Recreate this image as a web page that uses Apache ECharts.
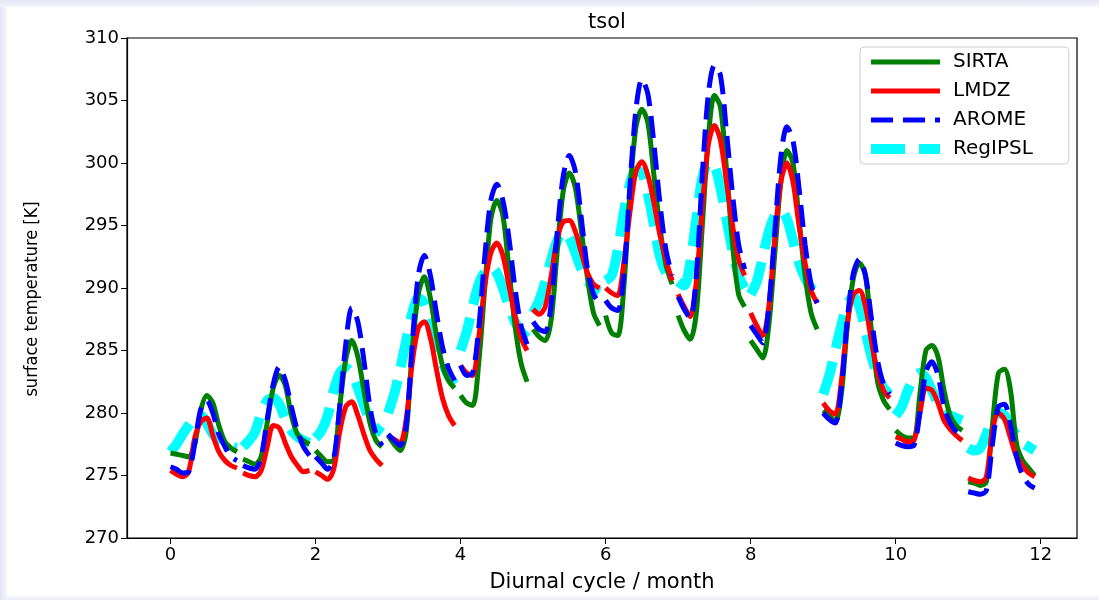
<!DOCTYPE html>
<html>
<head>
<meta charset="utf-8">
<script src="https://cdn.jsdelivr.net/npm/echarts@6/dist/echarts.min.js"></script>
<style>
  html, body { margin: 0; padding: 0; }
  body {
    width: 1099px; height: 600px; overflow: hidden;
    background:
      linear-gradient(to bottom, #e4e4f4 0px, #f1f1fa 5px, rgba(255,255,255,0) 8px),
      linear-gradient(to right, #e4e4f4 0px, #f1f1fa 5px, rgba(255,255,255,0) 8px),
      linear-gradient(to top, #ececf8 0px, rgba(255,255,255,0) 6px),
      #ffffff;
  }
  #chart { position: absolute; left: 0; top: 0; width: 1099px; height: 600px; }
</style>
</head>
<body>
<div id="chart"></div>
<script>
// hours of the day sampled in each monthly diurnal cycle
const hours = [0, 2, 4, 6, 8, 10, 12, 14, 16, 18, 20, 22];
const months = [0, 1, 2, 3, 4, 5, 6, 7, 8, 9, 10, 11];
const xTicks = [0, 2, 4, 6, 8, 10, 12];
const yTicks = [270, 275, 280, 285, 290, 295, 300, 305, 310];

const sirta = [
  [276.8, 276.7, 276.6, 276.5, 277.5, 280.2, 281.4, 280.8, 279.0, 277.7, 277.2, 276.9],
  [276.3, 276.1, 275.9, 276.5, 279.2, 282.0, 283.0, 282.2, 279.8, 278.3, 277.8, 277.5],
  [277.0, 276.5, 276.1, 276.2, 280.5, 284.3, 285.8, 284.5, 281.8, 279.2, 277.8, 277.3],
  [278.2, 277.5, 277.0, 278.5, 285.0, 289.5, 290.9, 289.2, 286.2, 283.8, 282.6, 282.0],
  [281.4, 280.8, 280.6, 284.0, 290.0, 295.5, 297.0, 295.8, 291.5, 287.0, 284.0, 282.5],
  [286.7, 286.1, 285.8, 287.5, 293.0, 297.8, 299.2, 298.0, 294.5, 290.8, 288.0, 287.0],
  [287.8, 286.4, 286.2, 290.0, 297.5, 302.8, 304.3, 303.2, 299.0, 294.8, 291.8, 290.3],
  [287.8, 286.6, 285.9, 288.0, 295.0, 302.0, 305.4, 304.5, 299.5, 293.5, 289.5, 288.5],
  [285.8, 285.1, 284.4, 287.0, 292.8, 298.5, 301.0, 300.0, 295.5, 291.0, 288.0, 286.7],
  [280.2, 279.8, 279.3, 281.5, 287.0, 290.8, 292.0, 291.0, 286.5, 282.5, 281.0, 280.3],
  [278.6, 278.2, 278.0, 278.0, 281.5, 285.0, 285.4, 284.5, 281.8, 279.8, 279.0, 278.6],
  [274.5, 274.4, 274.2, 274.5, 279.0, 283.2, 283.5, 281.8, 277.5, 276.2, 275.6, 275.0]
];

const lmdz = [
  [275.4, 275.1, 274.9, 275.3, 278.0, 279.3, 279.6, 278.2, 276.9, 276.2, 275.8, 275.6],
  [275.2, 275.0, 274.9, 275.4, 277.3, 279.0, 278.8, 277.6, 276.5, 275.8, 275.3, 275.4],
  [275.3, 275.0, 274.7, 275.5, 278.5, 280.5, 280.9, 279.8, 278.3, 277.0, 276.3, 275.8],
  [278.2, 277.9, 277.6, 279.5, 284.0, 286.8, 287.3, 286.0, 283.5, 281.2, 279.8, 279.0],
  [283.8, 283.2, 283.0, 286.0, 290.2, 292.8, 293.6, 292.6, 290.2, 287.8, 286.0, 285.0],
  [288.3, 287.9, 288.5, 291.0, 294.0, 295.3, 295.4, 294.5, 292.8, 291.2, 290.3, 290.0],
  [290.0, 289.6, 289.4, 292.0, 296.0, 299.3, 300.1, 299.0, 296.8, 294.2, 292.2, 290.6],
  [289.5, 288.5, 287.7, 290.5, 296.5, 301.5, 303.0, 301.8, 298.5, 295.0, 292.3, 291.0],
  [288.0, 287.0, 286.2, 288.5, 294.0, 298.5, 300.0, 298.5, 295.0, 292.0, 289.8, 288.8],
  [280.8, 280.2, 279.9, 282.5, 287.2, 289.5, 289.8, 288.5, 285.7, 283.2, 281.8, 281.2],
  [278.1, 277.9, 277.7, 277.8, 280.0, 282.0, 281.8, 280.8, 279.4, 278.7, 278.2, 277.8],
  [274.8, 274.6, 274.5, 274.9, 278.5, 280.0, 279.5, 278.0, 276.5, 275.8, 275.2, 274.9]
];

const arome = [
  [275.7, 275.5, 275.2, 275.3, 277.5, 280.3, 281.0, 280.0, 278.3, 277.3, 276.5, 276.2],
  [275.8, 275.6, 275.5, 276.5, 279.5, 282.3, 283.7, 282.6, 280.5, 278.6, 277.3, 276.6],
  [276.5, 276.0, 275.5, 276.3, 280.5, 285.5, 288.4, 287.3, 284.2, 280.5, 278.3, 277.4],
  [278.3, 277.8, 277.4, 279.0, 285.5, 291.0, 292.6, 291.0, 288.0, 285.3, 283.6, 282.6],
  [283.8, 283.0, 283.2, 286.8, 292.5, 297.0, 298.3, 297.0, 294.0, 290.0, 287.0, 285.5],
  [287.3, 286.7, 286.5, 288.8, 294.5, 299.0, 300.6, 299.3, 295.5, 291.5, 289.5, 288.8],
  [289.0, 288.4, 288.2, 291.0, 298.0, 304.2, 306.7, 305.5, 301.5, 296.7, 293.0, 291.0],
  [289.3, 288.3, 287.6, 291.0, 299.0, 305.5, 307.8, 307.0, 302.5, 297.5, 293.5, 291.5],
  [287.0, 286.3, 285.6, 288.5, 294.5, 300.5, 302.9, 301.8, 298.0, 293.5, 290.3, 288.8],
  [280.0, 279.5, 279.2, 282.0, 287.5, 291.2, 292.3, 291.0, 287.5, 284.2, 282.3, 281.5],
  [277.6, 277.4, 277.3, 277.4, 280.0, 283.3, 284.1, 283.0, 280.5, 279.2, 278.5, 278.1],
  [273.7, 273.6, 273.5, 273.8, 277.5, 280.5, 280.7, 279.0, 276.5, 275.0, 274.3, 274.0]
];

const regipsl = [
  [276.9, 277.5, 278.3, 279.0, 279.6, 279.8, 279.2, 278.3, 277.8, 277.5, 277.3, 277.2],
  [277.3, 277.8, 278.5, 280.0, 281.0, 281.2, 280.7, 279.5, 278.6, 278.1, 277.8, 277.6],
  [278.0, 278.6, 279.8, 281.8, 283.2, 283.6, 283.2, 282.0, 280.6, 279.4, 278.8, 278.4],
  [280.0, 281.5, 283.5, 285.8, 288.0, 289.2, 288.8, 287.3, 285.5, 284.0, 283.0, 282.3],
  [285.0, 286.5, 288.5, 290.3, 291.3, 291.7, 291.2, 290.0, 288.5, 287.3, 286.5, 286.0],
  [288.0, 289.0, 290.5, 292.3, 293.8, 294.5, 294.0, 292.8, 291.5, 290.6, 290.0, 289.7],
  [290.6, 291.0, 293.0, 296.0, 298.3, 299.4, 299.2, 297.5, 295.0, 292.5, 291.2, 290.7],
  [290.5, 290.2, 292.0, 295.5, 298.8, 300.0, 299.8, 298.0, 295.5, 293.0, 291.0, 290.0],
  [289.5, 290.5, 292.5, 294.5, 295.8, 296.2, 295.5, 293.8, 292.0, 290.8, 290.0, 289.5],
  [281.5, 283.0, 285.0, 287.0, 288.7, 289.3, 288.5, 286.5, 284.5, 283.0, 282.0, 281.5],
  [279.8, 280.5, 281.8, 282.8, 283.2, 282.8, 281.8, 280.8, 280.2, 279.8, 279.6, 279.4],
  [277.2, 277.0, 277.2, 278.3, 279.5, 280.0, 279.8, 279.0, 278.2, 277.6, 277.3, 277.0]
];

// build [x, y] pairs; month + hour/24 on the x axis, with a break between months
function build(series) {
  const out = [];
  months.forEach(function (m) {
    hours.forEach(function (h, k) {
      out.push([m + h / 24, series[m][k]]);
    });
    out.push([m + 0.96, '-']);
  });
  return out;
}

const FONT = 'DejaVu Sans';
const chart = echarts.init(document.getElementById('chart'), null, { renderer: 'canvas' });

function lineSeries(name, data, color, width, dash, z) {
  return {
    name: name,
    type: 'line',
    data: build(data),
    showSymbol: false,
    symbol: 'none',
    smooth: 0.3,
    connectNulls: false,
    z: z,
    lineStyle: { color: color, width: width, type: dash, cap: 'butt' },
    itemStyle: { color: color },
    emphasis: { disabled: true }
  };
}

chart.setOption({
  animation: false,
  backgroundColor: 'transparent',
  title: {
    text: 'tsol',
    left: 583,
    top: 7,
    textStyle: { fontFamily: FONT, fontSize: 21, fontWeight: 'normal', color: '#000' }
  },
  legend: {
    orient: 'vertical',
    left: 860,
    top: 47,
    data: ['SIRTA', 'LMDZ', 'AROME', 'RegIPSL'],
    itemWidth: 69,
    itemHeight: 14,
    itemGap: 9,
    padding: [5, 36, 5, 6],
    itemStyle: { opacity: 0 },
    lineStyle: { width: 'inherit' },
    backgroundColor: 'rgba(255,255,255,0.85)',
    borderColor: '#cccccc',
    borderWidth: 1,
    borderRadius: 4,
    textStyle: { fontFamily: FONT, fontSize: 20, color: '#000', padding: [0, 0, 0, 8] }
  },
  grid: { left: 127, top: 38, width: 950, height: 500, show: true, borderColor: '#000', borderWidth: 1.2, backgroundColor: 'transparent' },
  xAxis: {
    type: 'value',
    min: -0.6,
    max: 12.5,
    name: 'Diurnal cycle / month',
    nameLocation: 'middle',
    nameGap: 34,
    nameTextStyle: { fontFamily: FONT, fontSize: 21, color: '#000' },
    axisLine: { show: true, onZero: false, lineStyle: { color: '#000', width: 1.2 } },
    axisTick: { show: true, length: 6, lineStyle: { color: '#000' }, customValues: xTicks },
    axisLabel: { fontFamily: FONT, fontSize: 18, color: '#000', margin: 8, customValues: xTicks },
    splitLine: { show: false }
  },
  yAxis: {
    type: 'value',
    min: 270,
    max: 310,
    interval: 5,
    name: 'surface temperature [K]',
    nameLocation: 'middle',
    nameGap: 86,
    nameRotate: 90,
    nameTextStyle: { fontFamily: 'DejaVu Sans Condensed, ' + FONT, fontSize: 18, color: '#000', padding: [0, 22, 0, 0] },
    axisLine: { show: true, onZero: false, lineStyle: { color: '#000', width: 1.2 } },
    axisTick: { show: true, length: 6, lineStyle: { color: '#000' }, customValues: yTicks },
    axisLabel: { fontFamily: FONT, fontSize: 18, color: '#000', margin: 8, customValues: yTicks },
    splitLine: { show: false }
  },
  series: [
    lineSeries('SIRTA', sirta, '#008000', 5, 'solid', 2),
    lineSeries('LMDZ', lmdz, '#ff0000', 5, 'solid', 3),
    lineSeries('AROME', arome, '#0000ff', 5, [22, 10], 4),
    lineSeries('RegIPSL', regipsl, '#00ffff', 10, [34, 14], 1)
  ]
});
</script>
</body>
</html>
